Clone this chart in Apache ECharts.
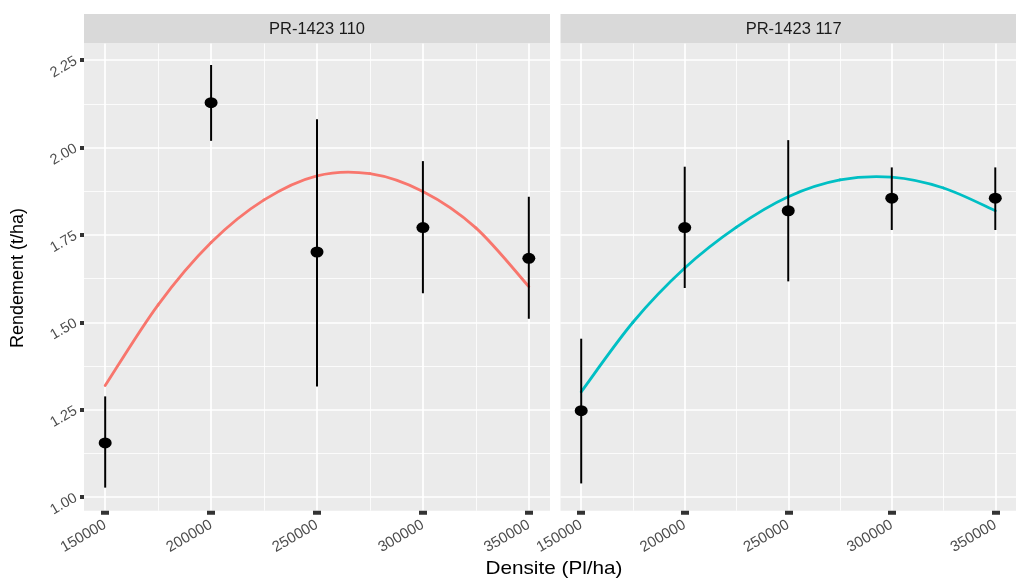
<!DOCTYPE html>
<html>
<head>
<meta charset="utf-8">
<script src="https://cdn.jsdelivr.net/npm/echarts@6/dist/echarts.min.js"></script>
<style>html,body{margin:0;padding:0;background:#fff;}#c{width:1016px;height:580px;}</style>
</head>
<body>
<div id="c"></div>
<script>
// ---- data ----
var facets = ['PR-1423 110', 'PR-1423 117'];
var densite = [150000, 200000, 250000, 300000, 350000];
var mean110 = [1.155, 2.128, 1.701, 1.771, 1.683];
var lo110   = [1.027, 2.019, 1.316, 1.583, 1.510];
var hi110   = [1.288, 2.236, 2.081, 1.961, 1.859];
var mean117 = [1.247, 1.771, 1.819, 1.855, 1.855];
var lo117   = [1.039, 1.598, 1.617, 1.764, 1.764];
var hi117   = [1.453, 1.945, 2.021, 1.943, 1.943];
var curveX  = [150000, 175000, 200000, 225000, 250000, 275000, 300000, 325000, 350000];
var fit110  = [1.319, 1.550, 1.728, 1.850, 1.919, 1.925, 1.874, 1.770, 1.602];
var fit117  = [1.301, 1.500, 1.655, 1.772, 1.859, 1.907, 1.915, 1.884, 1.819];
var xTicks = [150000, 200000, 250000, 300000, 350000];
var xMinor = [175000, 225000, 275000, 325000];
var yTicks = [1.00, 1.25, 1.50, 1.75, 2.00, 2.25];
var yMinor = [1.125, 1.375, 1.625, 1.875, 2.125];
var colors = ['#F8766D', '#00BFC4'];

var FONT = "'Liberation Sans', Arial, sans-serif";
var grids = [
  {left: 84, top: 43.3, width: 466, height: 467.4},
  {left: 560.5, top: 43.3, width: 466.4, height: 467.4}
];
var X_MIN = 140000, X_MAX = 360000, Y_MIN = 0.961, Y_MAX = 2.298;

function zip(a, b) { return a.map(function (v, i) { return [v, b[i]]; }); }
function zip3(a, b, c) { return a.map(function (v, i) { return [v, b[i], c[i]]; }); }

var xAxes = [], yAxes = [], series = [];
var means = [mean110, mean117], los = [lo110, lo117], his = [hi110, hi117], fits = [fit110, fit117];

// smooth curve through the read points (Catmull-Rom segments, positioned by the axes)
function makeCurveRenderer(ys) {
  return function (params, api) {
    var i = params.dataIndex;
    if (i >= curveX.length - 1) return null;
    function P(k) {
      k = Math.max(0, Math.min(curveX.length - 1, k));
      return api.coord([curveX[k], ys[k]]);
    }
    var p0 = P(i - 1), p1 = P(i), p2 = P(i + 1), p3 = P(i + 2);
    return {
      type: 'bezierCurve',
      shape: {
        x1: p1[0], y1: p1[1], x2: p2[0], y2: p2[1],
        cpx1: p1[0] + (p2[0] - p0[0]) / 6, cpy1: p1[1] + (p2[1] - p0[1]) / 6,
        cpx2: p2[0] - (p3[0] - p1[0]) / 6, cpy2: p2[1] - (p3[1] - p1[1]) / 6
      },
      style: {stroke: api.visual('color'), lineWidth: 2.8, fill: null, lineCap: 'round'}
    };
  };
}

grids.forEach(function (g, gi) {
  g.show = true; g.backgroundColor = '#EBEBEB'; g.borderWidth = 0; g.containLabel = false;
  xAxes.push({
    type: 'value', gridIndex: gi, min: X_MIN, max: X_MAX,
    axisLine: {show: false},
    axisTick: {show: true, length: 4, customValues: xTicks, lineStyle: {color: '#333333', width: 8}},
    axisLabel: {show: true, customValues: xTicks, rotate: 30, margin: 13, color: '#4D4D4D', fontSize: 15, fontFamily: FONT,
      formatter: function (v) { return String(v); }},
    splitLine: {show: true, lineStyle: {color: '#FFFFFF', width: 1.7}}
  });
  xAxes.push({
    type: 'value', gridIndex: gi, min: X_MIN, max: X_MAX,
    axisLine: {show: false},
    axisTick: {show: false, customValues: xMinor},
    axisLabel: {show: false, customValues: xMinor},
    splitLine: {show: true, lineStyle: {color: '#FFFFFF', width: 0.8}}
  });
  yAxes.push({
    type: 'value', gridIndex: gi, min: Y_MIN, max: Y_MAX,
    axisLine: {show: false},
    axisTick: {show: gi === 0, length: 4, customValues: yTicks, lineStyle: {color: '#333333', width: 4}},
    axisLabel: {show: gi === 0, customValues: yTicks, rotate: 30, margin: 8, color: '#4D4D4D', fontSize: 14.5, fontFamily: FONT,
      formatter: function (v) { return v.toFixed(2); }},
    splitLine: {show: true, lineStyle: {color: '#FFFFFF', width: 1.7}}
  });
  yAxes.push({
    type: 'value', gridIndex: gi, min: Y_MIN, max: Y_MAX,
    axisLine: {show: false},
    axisTick: {show: false, customValues: yMinor},
    axisLabel: {show: false, customValues: yMinor},
    splitLine: {show: true, lineStyle: {color: '#FFFFFF', width: 0.8}}
  });
  var xi = gi * 2, yi = gi * 2;
  series.push({
    type: 'custom', name: 'fit ' + facets[gi], xAxisIndex: xi, yAxisIndex: yi,
    data: zip(curveX, fits[gi]), encode: {x: 0, y: 1},
    itemStyle: {color: colors[gi]}, z: 2,
    renderItem: makeCurveRenderer(fits[gi])
  });
  series.push({
    type: 'custom', xAxisIndex: xi, yAxisIndex: yi, data: zip3(densite, los[gi], his[gi]),
    encode: {x: 0, y: [1, 2]}, z: 3,
    renderItem: function (params, api) {
      var x = api.value(0);
      var p1 = api.coord([x, api.value(1)]);
      var p2 = api.coord([x, api.value(2)]);
      return {type: 'line', shape: {x1: p1[0], y1: p1[1], x2: p2[0], y2: p2[1]},
        style: {stroke: '#000000', lineWidth: 2}};
    }
  });
  series.push({
    type: 'scatter', xAxisIndex: xi, yAxisIndex: yi, data: zip(densite, means[gi]),
    symbol: 'circle', symbolSize: [13, 11], itemStyle: {color: '#000000', opacity: 1}, z: 4
  });
});

var graphic = [];
grids.forEach(function (g, gi) {
  graphic.push({type: 'rect', shape: {x: g.left, y: 14, width: g.width, height: g.top - 14}, style: {fill: '#D9D9D9'}, z: 10});
  graphic.push({type: 'text', x: g.left + g.width / 2, y: 29.5, z: 11,
    style: {text: facets[gi], fill: '#1A1A1A', fontSize: 16.5, fontFamily: FONT, align: 'center', verticalAlign: 'middle'}});
});
graphic.push({type: 'text', x: 18.5, y: 278, rotation: Math.PI / 2, z: 11,
  style: {text: 'Rendement (t/ha)', fill: '#000000', fontSize: 18, fontFamily: FONT, align: 'center', verticalAlign: 'middle'}});
graphic.push({type: 'text', x: 554, y: 569, scaleX: 1.12, z: 11,
  style: {text: 'Densite (Pl/ha)', fill: '#000000', fontSize: 18.5, fontFamily: FONT, align: 'center', verticalAlign: 'middle'}});

var chart = echarts.init(document.getElementById('c'), null, {renderer: 'canvas'});
chart.setOption({
  animation: false,
  backgroundColor: '#FFFFFF',
  grid: grids,
  xAxis: xAxes,
  yAxis: yAxes,
  series: series,
  graphic: graphic
});
</script>
</body>
</html>
